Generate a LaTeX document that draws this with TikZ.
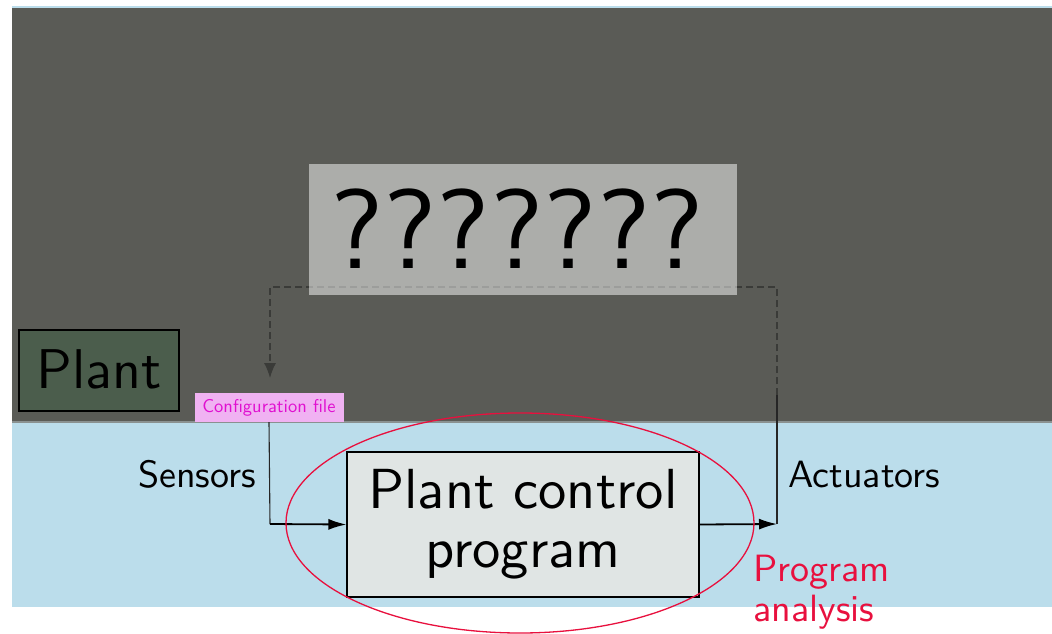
\documentclass[tikz,border=0pt]{standalone}
\usepackage{fontspec}
\setsansfont{lmsans10-regular.otf}
\usetikzlibrary{arrows.meta,shapes.geometric}
\definecolor{bgblue}{HTML}{BBDDEB}
\definecolor{darkgrey}{HTML}{5A5B56}
\definecolor{edgegrey}{HTML}{8A9190}
\definecolor{plantgreen}{HTML}{4B5D4C}
\definecolor{boxgrey}{HTML}{E0E5E4}
\definecolor{cfgpink}{HTML}{F0B2F2}
\definecolor{cfgtext}{HTML}{E010D0}
\definecolor{anared}{HTML}{E8103E}
\definecolor{dashgrey}{HTML}{3A3B38}
\begin{document}
\begin{tikzpicture}[x=1pt,y=-1pt,font=\sffamily,
  plainbox/.style={draw=black,line width=1.1pt,inner sep=0pt,align=center},
  arrowline/.style={line width=1.8pt,-{Latex[length=18pt,width=11pt]}},
  thinline/.style={line width=1.1pt,color=black!85},
  dashline/.style={line width=1.3pt,color=dashgrey,dash pattern=on 7pt off 4pt,
    -{Latex[length=15pt,width=12pt]}},
  lbl/.style={inner sep=0pt,font=\sffamily\fontsize{38}{40}\selectfont}]
\useasboundingbox[fill=white] (0,0) rectangle (1052,634);
% background bands
\fill[bgblue] (12,6) rectangle (1052,607);
\fill[darkgrey] (12,8) rectangle (1052,422);
\draw[edgegrey,line width=1.2pt] (12,422) -- (1052,422);
% coordinates for connectors
\coordinate (actTop) at (777,395);
\coordinate (dR) at (777,287);
\coordinate (dL) at (270,287);
\coordinate (cfgArr) at (270,378);
\coordinate (sensCorner) at (270,524);
\coordinate (actCorner) at (777,524);
% dashed feedback from the unknown box
\draw[dashline] (actTop) -- (dR) -- (dL) -- (cfgArr);
% unknown box
\node[fill=white,fill opacity=0.5,text opacity=1,inner sep=0pt,
      minimum width=428pt,minimum height=131pt,
      font=\sffamily\fontsize{113}{113}\selectfont] (q) at (523,229) {\kern-12pt ???????};
% plant
\node[plainbox,fill=plantgreen,minimum width=160pt,minimum height=81pt,
      font=\sffamily\fontsize{56}{60}\selectfont] (plant) at (99,370.5) {\raisebox{2pt}{Plant}};
% configuration file
\node[fill=cfgpink,text=cfgtext,inner sep=0pt,minimum width=149pt,minimum height=29pt,
      font=\sffamily\fontsize{18.5}{20}\selectfont] (cfg) at (269,407.5) {Configuration file};
% main program box
\node[plainbox,fill=boxgrey,minimum width=352pt,minimum height=145pt,
      font=\sffamily\fontsize{56.5}{59}\selectfont] (main) at (523,524.5) {Plant control\\program};
% connectors
\draw[thinline] (cfg.south) -- (sensCorner);
\draw[arrowline] (sensCorner) -- (main.west);
\draw[arrowline] (main.east) -- (actCorner);
\draw[thinline] (actCorner) -- (actTop);
% labels
\node[lbl,anchor=base east] (sens) at (256,487) {Sensors};
\node[lbl,anchor=base west] (act) at (788,487) {Actuators};
% program analysis ellipse
\node[ellipse,draw=anared,line width=1.3pt,inner sep=0pt,
      minimum width=468pt,minimum height=220pt] (ell) at (520,523) {};
\node[lbl,anchor=north west,align=left,text=anared] (pa) at (753,555) {Program\\analysis};
\end{tikzpicture}
\end{document}
